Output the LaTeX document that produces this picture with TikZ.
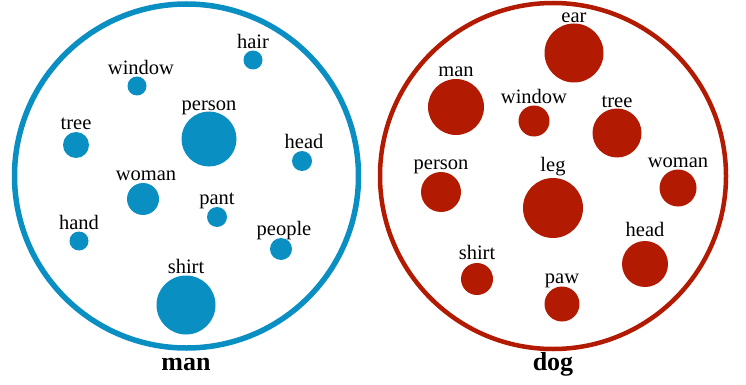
\documentclass[tikz,border=0pt]{standalone}
\usepackage{fontspec}
\setmainfont{Liberation Serif}
\usepackage{tikz}
\usetikzlibrary{positioning}
\definecolor{manblue}{HTML}{0A8FC2}
\definecolor{dogred}{HTML}{B31A02}
\tikzset{
  group/.style={circle, draw, inner sep=0pt},
  bdot/.style={circle, fill=manblue, inner sep=0pt},
  rdot/.style={circle, fill=dogred, inner sep=0pt},
  lbl/.style={inner sep=0pt, anchor=base, font=\fontsize{20.5}{24}\selectfont},
  title/.style={inner sep=0pt, anchor=base, font=\fontsize{26}{30}\selectfont\bfseries}
}

\begin{document}
\begin{tikzpicture}[x=1pt, y=-1pt]
  \useasboundingbox (0,0) rectangle (746,385);

  % man
  \node[group, draw=manblue, line width=5.5pt, minimum size=344pt] (mangroup) at (186.5,176) {};
  \node[title] (mantitle) at (186,370) {man};

  \node[bdot, minimum size=19pt] (mhair) at (253,60) {};
  \node[bdot, minimum size=19pt] (mwindow) at (137,86) {};
  \node[bdot, minimum size=55pt] (mperson) at (209,139) {};
  \node[bdot, minimum size=26pt] (mtree) at (76,145) {};
  \node[bdot, minimum size=20pt] (mhead) at (302,161) {};
  \node[bdot, minimum size=32pt] (mwoman) at (143,199) {};
  \node[bdot, minimum size=20pt] (mpant) at (217,217) {};
  \node[bdot, minimum size=19pt] (mhand) at (79,241) {};
  \node[bdot, minimum size=22pt] (mpeople) at (281,249) {};
  \node[bdot, minimum size=59pt] (mshirt) at (186,305) {};

  \node[lbl] (lmhair) at ([yshift=2pt]mhair.north) {hair};
  \node[lbl] (lmwindow) at ([xshift=4pt, yshift=2pt]mwindow.north) {window};
  \node[lbl] (lmperson) at ([yshift=1pt]mperson.north) {person};
  \node[lbl] (lmtree) at ([yshift=2pt]mtree.north) {tree};
  \node[lbl] (lmhead) at ([xshift=2pt, yshift=2pt]mhead.north) {head};
  \node[lbl] (lmwoman) at ([xshift=3pt, yshift=2pt]mwoman.north) {woman};
  \node[lbl] (lmpant) at ([yshift=2pt]mpant.north) {pant};
  \node[lbl] (lmhand) at ([yshift=2pt]mhand.north) {hand};
  \node[lbl] (lmpeople) at ([xshift=3pt, yshift=2pt]mpeople.north) {people};
  \node[lbl] (lmshirt) at ([yshift=2pt]mshirt.north) {shirt};

  % dog
  \node[group, draw=dogred, line width=4.5pt, minimum size=346pt] (doggroup) at (553,176) {};
  \node[title] (dogtitle) at (553,370) {dog};

  \node[rdot, minimum size=59pt] (dear) at (574,53) {};
  \node[rdot, minimum size=56pt] (dman) at (456,107) {};
  \node[rdot, minimum size=31pt] (dwindow) at (534,121) {};
  \node[rdot, minimum size=49pt] (dtree) at (617,133) {};
  \node[rdot, minimum size=40pt] (dperson) at (441,192) {};
  \node[rdot, minimum size=60pt] (dleg) at (553,208) {};
  \node[rdot, minimum size=37pt] (dwoman) at (678,188) {};
  \node[rdot, minimum size=46pt] (dhead) at (645,264) {};
  \node[rdot, minimum size=32pt] (dshirt) at (477,279) {};
  \node[rdot, minimum size=35pt] (dpaw) at (562,304) {};

  \node[lbl] (ldear) at ([yshift=1pt]dear.north) {ear};
  \node[lbl] (ldman) at ([yshift=2pt]dman.north) {man};
  \node[lbl] (ldwindow) at ([yshift=2pt]dwindow.north) {window};
  \node[lbl] (ldtree) at ([yshift=1pt]dtree.north) {tree};
  \node[lbl] (ldperson) at ([yshift=2pt]dperson.north) {person};
  \node[lbl] (ldleg) at ([yshift=6pt]dleg.north) {leg};
  \node[lbl] (ldwoman) at ([yshift=2pt]dwoman.north) {woman};
  \node[lbl] (ldhead) at ([yshift=4pt]dhead.north) {head};
  \node[lbl] (ldshirt) at ([yshift=3pt]dshirt.north) {shirt};
  \node[lbl] (ldpaw) at ([yshift=3pt]dpaw.north) {paw};
\end{tikzpicture}
\end{document}
